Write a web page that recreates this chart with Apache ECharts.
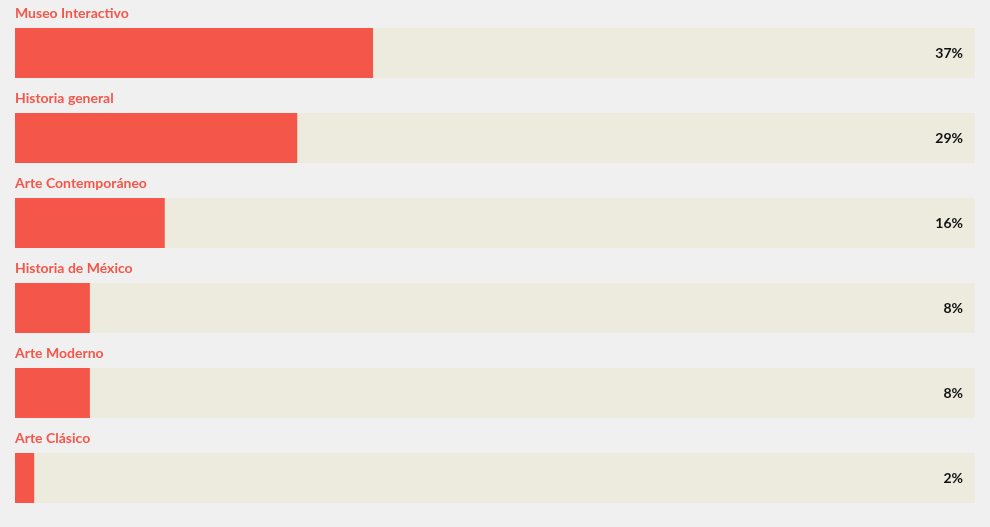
<!DOCTYPE html>
<html>
<head>
<meta charset="UTF-8">
<script src="https://cdn.jsdelivr.net/npm/echarts@6/dist/echarts.min.js"></script>
<style>html,body{margin:0;background:#f0f0f0;}#main{width:990px;height:527px;}</style>
</head>
<body>
<div id="main"></div>
<script>
var categories = ['Museo Interactivo', 'Historia general', 'Arte Contemporáneo', 'Historia de México', 'Arte Moderno', 'Arte Clásico'];
var values = [37.3, 29.4, 15.6, 7.8, 7.8, 2.0];
var trackMax = 100;

var myChart = echarts.init(document.getElementById('main'));
var font = 'Lato, "Open Sans", sans-serif';
myChart.setOption({
    backgroundColor: '#f0f0f0',
    grid: {left: 15, right: 15, top: 10.5, bottom: 6.5},
    xAxis: {type: 'value', min: 0, max: trackMax, show: false},
    yAxis: {type: 'category', data: categories, inverse: true, show: false},
    series: [{
        // fondo gris
        type: 'bar', silent: true, barWidth: 50, animation: false,
        data: categories.map(function () { return trackMax; }),
        itemStyle: {color: '#ecebde'},
        label: {
            show: true, position: 'insideRight', distance: 12,
            formatter: function (p) { return Math.round(values[p.dataIndex]) + '%'; },
            color: '#111', fontWeight: 'bold', fontSize: 14, fontFamily: font
        },
        z: 1
    }, {
        type: 'bar', barWidth: 50, barGap: '-100%', animation: false,
        data: values,
        itemStyle: {color: '#f5564a'},
        z: 2
    }, {
        // nombres
        type: 'bar', barWidth: 50, barGap: '-100%', silent: true, animation: false,
        data: categories.map(function () { return trackMax; }),
        itemStyle: {color: 'transparent'},
        label: {
            show: true, position: [0, -22], align: 'left', verticalAlign: 'top',
            formatter: function (p) { return categories[p.dataIndex]; },
            color: '#f5564a', fontWeight: 'bold', fontSize: 14, fontFamily: font
        },
        z: 3
    }]
});
</script>
</body>
</html>
